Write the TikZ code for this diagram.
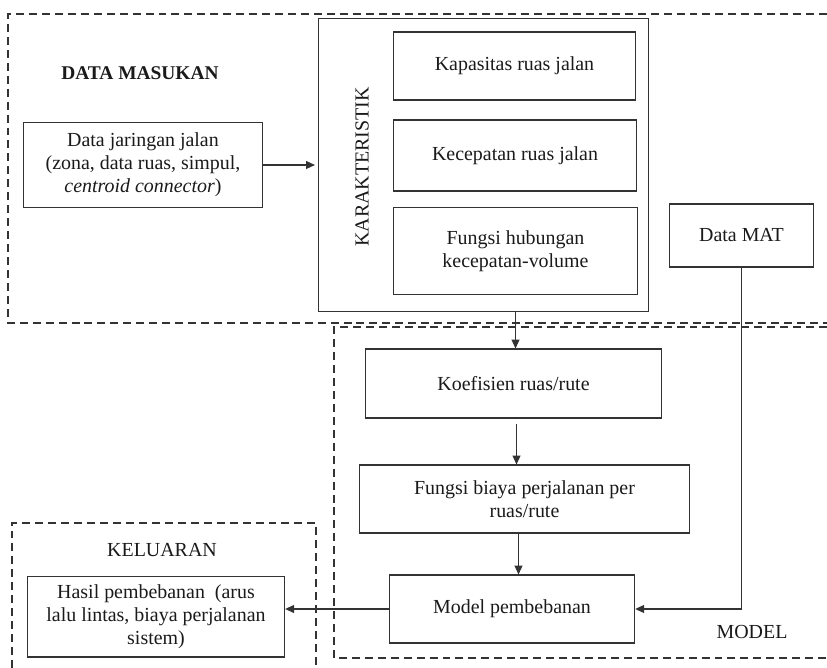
\documentclass[tikz,border=0pt]{standalone}
\usepackage{fontspec}
\setmainfont{Liberation Serif}
\usetikzlibrary{arrows.meta,calc}
\definecolor{ln}{HTML}{333333}
\definecolor{tx}{HTML}{1A1A1A}
\tikzset{
  box/.style={draw=ln, line width=1.3pt, rectangle, inner sep=0pt, align=center, text=tx,
    font=\fontsize{20}{23}\selectfont},
  grp/.style={draw=ln, line width=1.2pt, dash pattern=on 8pt off 5pt},
  lbl/.style={text=tx, font=\fontsize{20}{23}\selectfont},
  arr/.style={draw=ln, line width=1.2pt, -{Triangle[length=9pt,width=8pt]}},
  plain/.style={draw=ln, line width=1.2pt}
}
\begin{document}
\begin{tikzpicture}[x=1bp,y=-1bp]
\useasboundingbox[fill=white] (0,0) rectangle (827,668);
% group frames
\draw[grp] (827,14) -- (8,14) -- (8,323) -- (827,323);
\draw[grp] (827,327) -- (334,327) -- (334,658) -- (827,658);
\draw[grp] (12,668) -- (12,523) -- (316,523) -- (316,668);
% labels
\node[lbl, font=\bfseries\fontsize{19.5}{22}\selectfont] (lin) at (140,73) {DATA MASUKAN};
\node[lbl] (lout) at (162,550) {KELUARAN};
\node[lbl] (lmod) at (752,632) {MODEL};
% karakteristik
\node[box, minimum width=331, minimum height=294] (kar) at (483.5,165) {};
\node[lbl, rotate=90] (karl) at (362,167) {KARAKTERISTIK};
\node[box, minimum width=243, minimum height=68] (kap) at (514.5,66) {Kapasitas ruas jalan};
\node[box, minimum width=244, minimum height=71] (kec) at (515,155.5) {Kecepatan ruas jalan};
\node[box, minimum width=245, minimum height=88] (fhk) at (515.5,251) {Fungsi hubungan\\kecepatan-volume};
% input
\node[box, minimum width=240, minimum height=85] (dj) at (143,165) {Data jaringan jalan\\(zona, data ruas, simpul,\\\textit{centroid connector})};
\node[box, minimum width=145, minimum height=63] (mat) at (741.5,235.5) {Data MAT};
% model
\node[box, minimum width=297, minimum height=69] (koef) at (513.5,383.5) {Koefisien ruas/rute};
\node[box, minimum width=331, minimum height=68] (fb) at (524.5,499) {Fungsi biaya perjalanan per\\ruas/rute};
\node[box, minimum width=246, minimum height=68] (mp) at (512,609) {Model pembebanan};
% output
\node[box, minimum width=258, minimum height=81] (hasil) at (156,616.5) {Hasil pembebanan\ \ (arus\\lalu lintas, biaya perjalanan\\sistem)};
% connectors
\draw[arr, shorten >=3pt] (dj.east) -- (kar.west);
\draw[arr] ($(koef.north |- kar.south)+(2,0)$) -- ($(koef.north)+(2,0)$);
\draw[arr] ($(koef.south)+(3,5)$) -- ($(koef.south |- fb.north)+(3,0)$);
\draw[arr] ($(fb.south)+(-6,0)$) -- ($(fb.south |- mp.north)+(-6,0)$);
\draw[arr] (mat.south) |- (mp.east);
\draw[arr] (mp.west) -- (mp.west -| hasil.east);
\end{tikzpicture}
\end{document}
